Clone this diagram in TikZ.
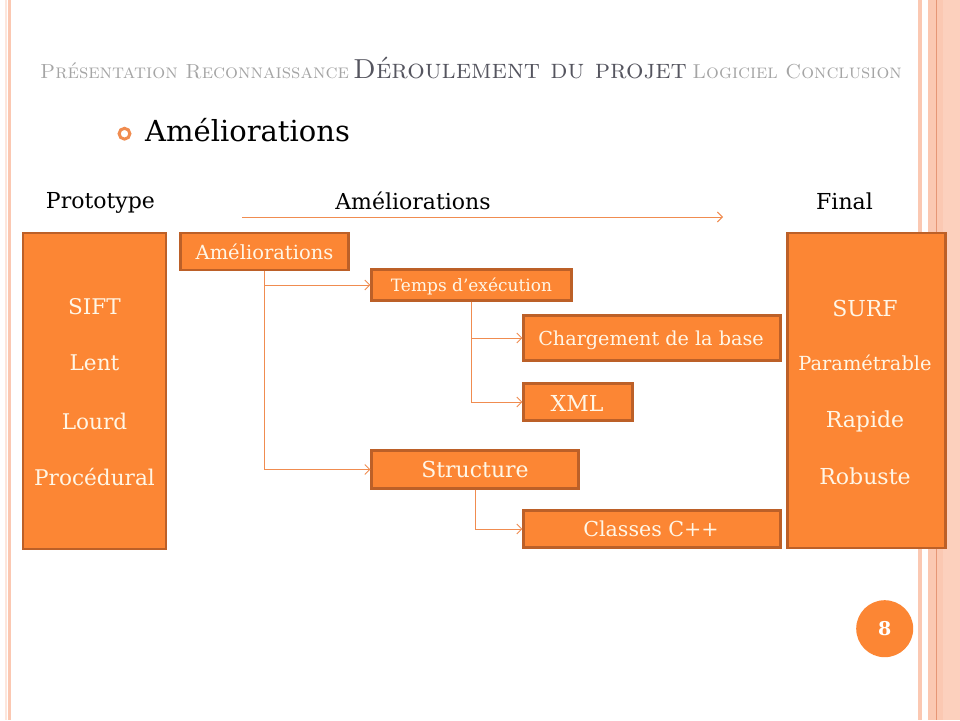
\documentclass[tikz,border=0pt]{standalone}
\usepackage{fontspec}
\setmainfont{DejaVu Serif}
\usetikzlibrary{arrows.meta}

\definecolor{boxfill}{RGB}{252,134,52}
\definecolor{boxedge}{RGB}{188,96,40}
\definecolor{linkorange}{RGB}{240,140,80}
\definecolor{stripe}{RGB}{251,200,178}
\definecolor{stripedark}{RGB}{230,150,118}
\definecolor{boxtext}{RGB}{255,246,230}
\definecolor{headlight}{RGB}{165,165,165}
\definecolor{headdark}{RGB}{85,85,95}

\newcommand{\fsz}[1]{\fontsize{#1}{#1}\selectfont}
\newcommand{\headsc}{\fontfamily{lmr}\selectfont\scshape}

\begin{document}
\begin{tikzpicture}[x=1pt,y=-1pt,
  orangebox/.style={draw=boxedge, line width=2.2pt, fill=boxfill, inner sep=0pt},
  boxlabel/.style={text=boxtext, anchor=base, inner sep=0pt},
  plainlabel/.style={anchor=base, inner sep=0pt, font=\fsz{22}},
  link/.style={draw=linkorange, line width=0.9pt, -{Straight Barb[length=5pt,width=10pt]}},
  headtext/.style={inner sep=0pt}
]
\useasboundingbox (0,0) rectangle (960,720);
\fill[white] (0,0) rectangle (960,720);

% page border stripes
\fill[stripe!45] (5,0) rectangle (6.5,720);
\fill[stripe] (8,0) rectangle (11,720);
\fill[stripe] (917.7,0) rectangle (921.7,720);
\fill[stripe] (928.3,0) rectangle (960,720);
\fill[stripe!85!white] (943,0) rectangle (960,720);
\fill[stripedark] (936,0) rectangle (937,720);

% section header
\node[headtext, anchor=base west, text=headlight, font=\headsc\fsz{20.4}] (hpres) at (40,78) {Présentation Reconnaissance};
\node[headtext, anchor=base west, text=headdark, font=\headsc\fsz{27.5}] (hderoul) at (353,78) {Déroulement du projet};
\node[headtext, anchor=base east, text=headlight, font=\headsc\fsz{20.2}] (hlog) at (902,78) {Logiciel Conclusion};

% slide title with ring bullet
\draw[linkorange, line width=3pt] (124.5,133.7) circle (5.4);
\node[anchor=base west, inner sep=0pt, font=\fsz{29}] (title) at (145,141.7) {Améliorations};

% column headings
\node[plainlabel] (lproto) at (100.5,208.5) {Prototype};
\node[plainlabel] (lamel) at (413,209.3) {Améliorations};
\node[plainlabel] (lfinal) at (844.5,209) {Final};
\coordinate (arrstart) at (242,217);
\coordinate (arrend) at (723,217);
\draw[link] (arrstart) -- (arrend);

% prototype and final columns
\node[orangebox, minimum width=143, minimum height=316] (proto) at (94.5,391) {};
\node[orangebox, minimum width=158, minimum height=315] (final) at (866.5,390.5) {};

\node[boxlabel, font=\fsz{21.6}] (sift) at (94.5,314) {SIFT};
\node[boxlabel, font=\fsz{21.6}] (lent) at (94.5,370.7) {Lent};
\node[boxlabel, font=\fsz{21.6}] (lourd) at (94.5,429) {Lourd};
\node[boxlabel, font=\fsz{21.6}] (proc) at (94.5,485.5) {Procédural};

\node[boxlabel, font=\fsz{22}] (surf) at (865,316) {SURF};
\node[boxlabel, font=\fsz{19.4}] (param) at (865,370) {Paramétrable};
\node[boxlabel, font=\fsz{22}] (rapide) at (865,427.3) {Rapide};
\node[boxlabel, font=\fsz{22}] (robuste) at (865,484.3) {Robuste};

% improvement tree
\node[orangebox, minimum width=168, minimum height=37] (amel) at (264.5,251.5) {};
\node[boxlabel, font=\fsz{19.5}] at (264.5,259.3) {Améliorations};

\node[orangebox, minimum width=200, minimum height=31] (temps) at (471.5,285) {};
\node[boxlabel, font=\fsz{17}] at (471.5,291.7) {Temps d’exécution};

\node[orangebox, minimum width=257, minimum height=45] (charg) at (652,338) {};
\node[boxlabel, font=\fsz{19.2}] at (651,345.7) {Chargement de la base};

\node[orangebox, minimum width=109, minimum height=37] (xml) at (578,402) {};
\node[boxlabel, font=\fsz{22}] at (577,411) {XML};

\node[orangebox, minimum width=207, minimum height=38] (struct) at (475,469.5) {};
\node[boxlabel, font=\fsz{22}] at (475,477.3) {Structure};

\node[orangebox, minimum width=257, minimum height=37] (classes) at (652,529) {};
\node[boxlabel, font=\fsz{20.6}] at (651,536.7) {Classes C++};

\draw[link] (amel.south) |- (temps.west);
\draw[link] (amel.south) |- (struct.west);
\draw[link] (temps.south) |- (charg.west);
\draw[link] (temps.south) |- (xml.west);
\draw[link] (struct.south) |- (classes.west);

% page number
\node[circle, fill=boxfill, minimum size=57, inner sep=0pt, text=white, font=\bfseries\fsz{19}] (pagenum) at (884.7,628.7) {8};
\end{tikzpicture}
\end{document}
